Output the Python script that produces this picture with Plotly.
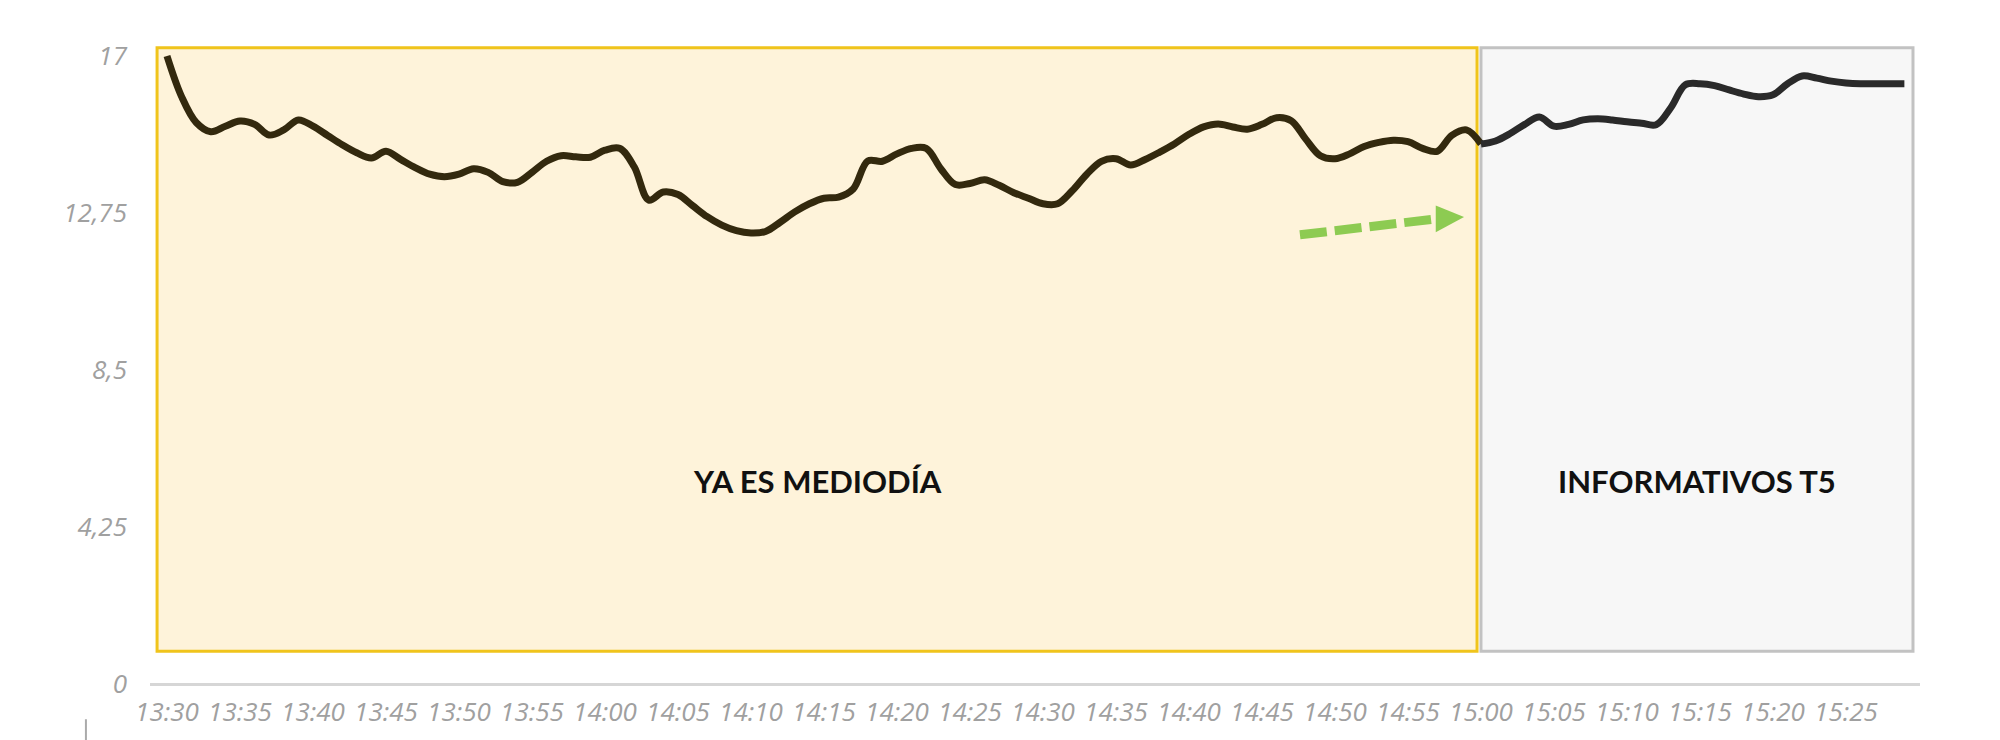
import plotly.graph_objects as go

# minutos desde las 13:30 (un punto por minuto)
minutos_ym = list(range(0, 91))
audiencia_ym = [17.0, 15.9, 15.2, 14.95, 15.1, 15.24, 15.15, 14.86, 15.0, 15.27,
                15.1, 14.85, 14.6, 14.38, 14.24, 14.42, 14.2, 13.98, 13.8, 13.73,
                13.8, 13.95, 13.85, 13.6, 13.58, 13.85, 14.15, 14.3, 14.27, 14.26,
                14.45, 14.5, 14.0, 13.1, 13.32, 13.25, 12.95, 12.65, 12.42, 12.27,
                12.21, 12.25, 12.5, 12.78, 13.0, 13.15, 13.18, 13.4, 14.16, 14.15,
                14.35, 14.5, 14.5, 13.95, 13.52, 13.55, 13.65, 13.5, 13.3, 13.15,
                13.0, 13.0, 13.35, 13.8, 14.15, 14.22, 14.05, 14.2, 14.4, 14.62,
                14.88, 15.08, 15.16, 15.08, 15.02, 15.15, 15.33, 15.25, 14.75, 14.3,
                14.22, 14.35, 14.55, 14.66, 14.72, 14.68, 14.5, 14.42, 14.85, 15.0,
                14.62]

minutos_t5 = list(range(90, 120))
audiencia_t5 = [14.62, 14.7, 14.9, 15.15, 15.35, 15.1, 15.15, 15.27, 15.3, 15.27,
                15.22, 15.18, 15.14, 15.6, 16.22, 16.25, 16.2, 16.08, 15.97, 15.9,
                15.95, 16.25, 16.46, 16.4, 16.32, 16.27, 16.25, 16.25, 16.25, 16.25]

etiquetas_x = ["13:30", "13:35", "13:40", "13:45", "13:50", "13:55", "14:00", "14:05",
               "14:10", "14:15", "14:20", "14:25", "14:30", "14:35", "14:40", "14:45",
               "14:50", "14:55", "15:00", "15:05", "15:10", "15:15", "15:20", "15:25"]
posiciones_x = [i * 5 for i in range(len(etiquetas_x))]

valores_y = [0, 4.25, 8.5, 12.75, 17]
etiquetas_y = ["0", "4,25", "8,5", "12,75", "17"]

programas = ["YA ES MEDIODÍA", "INFORMATIVOS T5"]
inicio_prog = [-0.68, 90.0]
fin_prog = [89.73, 119.59]

# flecha: tramo discontinuo y punta
flecha_x = [77.6, 86.9]
flecha_y = [12.16, 12.59]
punta_base_x = 86.9
punta_base_y = 12.59
punta_x = 88.84
punta_y = 12.64
punta_media_alto = 0.36

tick_font = dict(family="Open Sans", size=26, color="#a0a0a0", style="italic")

fig = go.Figure()

# cajas de programas
fig.add_shape(type="rect", xref="x", yref="y", layer="below",
              x0=inicio_prog[0], x1=fin_prog[0], y0=0.89, y1=17.22,
              fillcolor="#fef3da", line=dict(color="#f0c41b", width=3))
fig.add_shape(type="rect", xref="x", yref="y", layer="below",
              x0=inicio_prog[1], x1=fin_prog[1], y0=0.89, y1=17.22,
              fillcolor="#f7f7f7", line=dict(color="#c2c2c2", width=3))

fig.add_trace(go.Scatter(x=minutos_ym, y=audiencia_ym, mode="lines",
                         line=dict(color="#33290e", width=7, shape="spline", smoothing=1),
                         hoverinfo="skip", showlegend=False))
fig.add_trace(go.Scatter(x=minutos_t5, y=audiencia_t5, mode="lines",
                         line=dict(color="#2a2a2a", width=7, shape="spline", smoothing=1),
                         hoverinfo="skip", showlegend=False))

# flecha verde discontinua
fig.add_trace(go.Scatter(x=flecha_x, y=flecha_y, mode="lines",
                         line=dict(color="#8dcb52", width=9, dash="27px,8px"),
                         hoverinfo="skip", showlegend=False))
fig.add_shape(type="path", xref="x", yref="y",
              path=f"M {punta_base_x},{punta_base_y + punta_media_alto} "
                   f"L {punta_x},{punta_y} "
                   f"L {punta_base_x},{punta_base_y - punta_media_alto} Z",
              fillcolor="#8dcb52", line=dict(width=0))

# nombres de programas
for nombre, x0, x1 in zip(programas, inicio_prog, fin_prog):
    fig.add_annotation(x=(x0 + x1) / 2, y=5.5, text="<b>" + nombre + "</b>", showarrow=False,
                       font=dict(family="Lato", size=31, color="#111111"))

# pequeña marca inferior
fig.add_shape(type="line", xref="paper", yref="paper", x0=-0.0362, x1=-0.0362,
              y0=-0.045, y1=-0.08, line=dict(color="#aaaaaa", width=2))

fig.update_layout(
    width=2000, height=740,
    margin=dict(l=142, r=88, t=32, b=58),
    paper_bgcolor="white", plot_bgcolor="white",
    xaxis=dict(range=[-1.164, 120.07], tickvals=posiciones_x, ticktext=etiquetas_x,
               showgrid=False, zeroline=False, showline=False, ticks="",
               tickfont=tick_font, ticklabelstandoff=4),
    yaxis=dict(range=[-0.162, 17.433], tickvals=valores_y, ticktext=etiquetas_y,
               showgrid=False, zeroline=True, zerolinecolor="#d6d6d6", zerolinewidth=3,
               showline=False, ticks="", tickfont=tick_font, ticklabelstandoff=22),
)

fig.write_html("out.html")
